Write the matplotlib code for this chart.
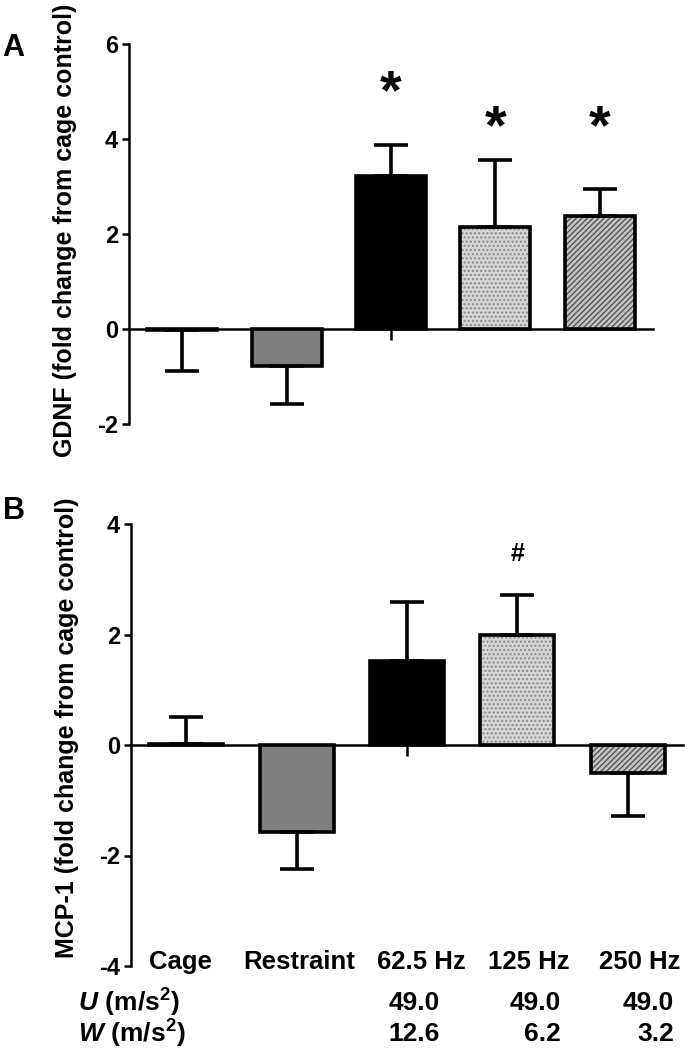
import matplotlib
matplotlib.use("Agg")
import matplotlib.pyplot as plt
import numpy as np

# ---------------- data ----------------
categories = ["Cage", "Restraint", "62.5 Hz", "125 Hz", "250 Hz"]
gdnf_mean = [-0.03, -0.78, 3.23, 2.15, 2.38]
gdnf_err = [0.85, 0.80, 0.65, 1.41, 0.57]
gdnf_sig = ["", "", "*", "*", "*"]
mcp_mean = [0.02, -1.57, 1.52, 2.00, -0.50]
mcp_err = [0.48, 0.67, 1.07, 0.72, 0.79]
mcp_sig = ["", "", "", "#", ""]
u_values = ["", "", "49.0", "49.0", "49.0"]
w_values = ["", "", "12.6", "6.2", "3.2"]
gdnf_ticks = [-2, 0, 2, 4, 6]
mcp_ticks = [-4, -2, 0, 2, 4]

# ---------------- style ----------------
plt.rcParams["font.family"] = ["Liberation Sans", "DejaVu Sans"]
plt.rcParams["font.weight"] = "bold"
plt.rcParams["mathtext.fontset"] = "custom"
plt.rcParams["mathtext.rm"] = "Liberation Sans:bold"
plt.rcParams["mathtext.it"] = "Liberation Sans:italic:bold"
plt.rcParams["mathtext.bf"] = "Liberation Sans:bold"

face = ["white", "#7f7f7f", "black", "#d6d6d6", "#c4c4c4"]
hatch = [None, None, None, "....", "//////"]
hatch_col = [None, None, None, "#8a8a8a", "#555555"]

fig = plt.figure(figsize=(6.85, 10.5), dpi=100)
axA = fig.add_axes([129 / 685, 1 - 424 / 1050, 524 / 685, 380 / 1050])
axB = fig.add_axes([131 / 685, 1 - 966 / 1050, 552 / 685, 442 / 1050])

LW = 2.6
TICK_FS = 17
x = np.arange(len(categories))
width = 0.67


def draw(ax, means, errs, sig, ylim, ticks, sig_y, sig_size):
    means = np.array(means)
    errs = np.array(errs)
    for i in range(len(means)):
        if hatch[i]:
            plt.rcParams["hatch.color"] = hatch_col[i]
            plt.rcParams["hatch.linewidth"] = 1.0
            ax.bar(x[i], means[i], width, color=face[i], hatch=hatch[i],
                   edgecolor=hatch_col[i], linewidth=0, zorder=2)
            ax.bar(x[i], means[i], width, facecolor="none",
                   edgecolor="black", linewidth=LW, zorder=3)
        else:
            ax.bar(x[i], means[i], width, color=face[i],
                   edgecolor="black", linewidth=LW, zorder=3)
    lower = np.where(means < 0, errs, 0)
    upper = np.where(means >= 0, errs, 0)
    ax.errorbar(x, means, yerr=[lower, upper], fmt="none", ecolor="black",
                elinewidth=LW, capsize=12.5, capthick=LW, zorder=4)
    for i, s in enumerate(sig):
        if s:
            ax.text(x[i], sig_y[i], s, ha="center", va="center",
                    fontsize=sig_size, fontweight="bold")
    ax.set_ylim(*ylim)
    ax.set_xlim(-0.5, len(categories) - 0.5)
    ax.set_yticks(ticks)
    ax.set_yticklabels([str(t) for t in ticks], fontsize=TICK_FS,
                       fontweight="bold")
    ax.set_xticks([2])
    ax.set_xticklabels([""])
    ax.tick_params(axis="x", direction="inout", length=16, width=1.8)
    ax.tick_params(axis="y", direction="out", length=5, width=1.8, pad=3)
    for s in ["top", "right"]:
        ax.spines[s].set_visible(False)
    ax.spines["left"].set_linewidth(1.8)
    ax.spines["bottom"].set_linewidth(1.8)
    ax.spines["bottom"].set_position(("data", 0))


draw(axA, gdnf_mean, gdnf_err, gdnf_sig, (-2, 6), gdnf_ticks,
     [0, 0, 4.95, 4.2, 4.2], 40)
axA.set_xlim(-0.51, 4.51)
draw(axB, mcp_mean, mcp_err, mcp_sig, (-4, 4), mcp_ticks,
     [0, 0, 0, 3.46, 0], 18)

axA.set_ylabel("GDNF (fold change from cage control)", fontsize=18,
               fontweight="bold")
axA.yaxis.set_label_coords(-0.1, 0.51)
axB.set_ylabel("MCP-1 (fold change from cage control)", fontsize=18,
               fontweight="bold")
axB.yaxis.set_label_coords(-0.094, 0.54)

fig.text(2 / 685, 1 - 48 / 1050, "A", fontsize=22, fontweight="bold",
         va="center", ha="left")
fig.text(3 / 685, 1 - 511 / 1050, "B", fontsize=22, fontweight="bold",
         va="center", ha="left")

# category labels under panel B (at the -4 level)
label_shift = [-0.05, 0.02, 0.13, 0.1, 0.11]
for i, c in enumerate(categories):
    axB.text(x[i] + label_shift[i], -3.93, c, ha="center", va="center",
             fontsize=18.5, fontweight="bold")

# U / W rows
fig.text(78 / 685, 1 - 1003 / 1050, r"$\mathit{U}\ \mathrm{(m/s^2)}$",
         fontsize=19, va="center", ha="left")
fig.text(78 / 685, 1 - 1034 / 1050, r"$\mathit{W}\ \mathrm{(m/s^2)}$",
         fontsize=19, va="center", ha="left")
val_right = [0, 0, 440, 561, 674]
for i in range(len(categories)):
    if u_values[i]:
        fig.text(val_right[i] / 685, 1 - 1003 / 1050, u_values[i],
                 fontsize=19, fontweight="bold", ha="right", va="center")
    if w_values[i]:
        fig.text(val_right[i] / 685, 1 - 1034 / 1050, w_values[i],
                 fontsize=19, fontweight="bold", ha="right", va="center")

fig.savefig("out.png", dpi=100)
